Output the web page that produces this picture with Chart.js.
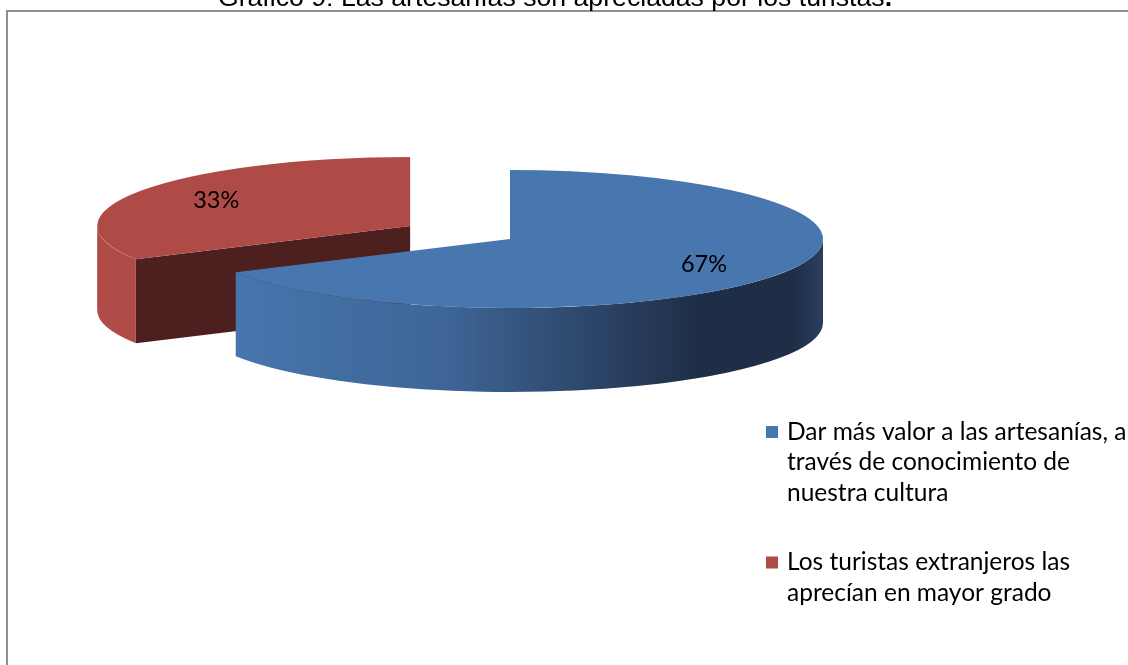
<!DOCTYPE html>
<html>
<head>
<meta charset="utf-8">
<script src="https://cdn.jsdelivr.net/npm/chart.js@4.4.0/dist/chart.umd.min.js"></script>
<style>
html, body { margin: 0; padding: 0; background: #fff; overflow: hidden; }
canvas { display: block; }
</style>
</head>
<body>
<canvas id="grafico" width="1128" height="665"></canvas>
<script>
var titulo = "Gráfico 9: Las artesanías son apreciadas por los turistas";
var categorias = [
  ["Dar más valor a las artesanías, a", "través de conocimiento de", "nuestra cultura"],
  ["Los turistas extranjeros las", "aprecían en mayor grado"]
];
var valores = [67, 33];
var separacion = [0, 116];
var colores = ["#4877b0", "#af4b47"];
var coloresCorte = ["#2a4264", "#4e1f1f"];

// vista 3d: centro del pastel en pantalla, aplastado vertical y grosor
var CX = 510, CY = 239, SY = 0.2204, ALTO = 84;

function desplazamiento(arc, i) {
  var mid = (arc.startAngle + arc.endAngle) / 2;
  return {x: Math.cos(mid) * separacion[i], y: Math.sin(mid) * separacion[i]};
}

function gradienteLado(ctx, i, x0, x1) {
  var g = ctx.createLinearGradient(x0, 0, x1, 0);
  if (i == 0) {
    g.addColorStop(0, "#4878b1");
    g.addColorStop(0.4, "#3e6596");
    g.addColorStop(0.8, "#1f2e47");
    g.addColorStop(0.95, "#1f2e46");
    g.addColorStop(1, "#2a3e5e");
  } else {
    g.addColorStop(0, "#b04c48");
    g.addColorStop(1, "#a94642");
  }
  return g;
}

var pastel3d = {
  id: 'pastel3d',
  beforeDraw: function(chart) {
    var ctx = chart.ctx;
    ctx.save();
    ctx.strokeStyle = "#8f8f8f";
    ctx.lineWidth = 2;
    ctx.strokeRect(7, 11, 1200, 800);
    ctx.restore();
  },
  beforeDatasetsDraw: function(chart) {
    var ctx = chart.ctx;
    var arcs = chart.getDatasetMeta(0).data;
    var tx = CX - arcs[0].x, ty = CY - arcs[0].y * SY;
    var orden = arcs.map(function(a, i) { return i; }).sort(function(a, b) {
      return desplazamiento(arcs[a], a).y - desplazamiento(arcs[b], b).y;
    });
    orden.forEach(function(i) {
      var arc = arcs[i], d = desplazamiento(arc, i);
      var sx = arc.x + d.x + tx, sy = (arc.y + d.y) * SY + ty;
      var R = arc.outerRadius, r2 = R * SY;
      // caras del corte
      [[arc.startAngle, -Math.cos(arc.startAngle)], [arc.endAngle, Math.cos(arc.endAngle)]].forEach(function(c) {
        if (c[1] <= 0.01) return;
        var px = sx + R * Math.cos(c[0]), py = sy + r2 * Math.sin(c[0]);
        ctx.beginPath();
        ctx.moveTo(sx, sy);
        ctx.lineTo(px, py);
        ctx.lineTo(px, py + ALTO);
        ctx.lineTo(sx, sy + ALTO);
        ctx.closePath();
        ctx.fillStyle = coloresCorte[i];
        ctx.fill();
      });
      // pared exterior visible (mitad delantera)
      for (var k = -1; k <= 1; k++) {
        var lo = Math.max(arc.startAngle, 2 * Math.PI * k);
        var hi = Math.min(arc.endAngle, Math.PI + 2 * Math.PI * k);
        if (hi <= lo) continue;
        ctx.beginPath();
        ctx.ellipse(sx, sy, R, r2, 0, lo, hi);
        ctx.ellipse(sx, sy + ALTO, R, r2, 0, hi, lo, true);
        ctx.closePath();
        ctx.fillStyle = gradienteLado(ctx, i, sx - R, sx + R);
        ctx.fill();
      }
      // cara de arriba: el arco de Chart.js con la vista aplastada
      ctx.save();
      ctx.translate(tx + d.x, ty + d.y * SY);
      ctx.scale(1, SY);
      arc.draw(ctx);
      ctx.restore();
    });
    return false;
  },
  afterDraw: function(chart) {
    var ctx = chart.ctx;
    var arcs = chart.getDatasetMeta(0).data;
    var tx = CX - arcs[0].x, ty = CY - arcs[0].y * SY;
    ctx.save();
    // porcentajes
    ctx.font = "23.5px Lato";
    ctx.fillStyle = "#000";
    ctx.textAlign = "center";
    ctx.textBaseline = "middle";
    arcs.forEach(function(arc, i) {
      var d = desplazamiento(arc, i);
      var mid = (arc.startAngle + arc.endAngle) / 2;
      var r = arc.outerRadius * 0.72;
      var x = arc.x + d.x + r * Math.cos(mid) + tx;
      var y = (arc.y + d.y + r * Math.sin(mid)) * SY + ty;
      ctx.fillText(valores[i] + "%", x, y);
    });
    // titulo (cortado arriba como en el original)
    ctx.textBaseline = "alphabetic";
    ctx.textAlign = "left";
    ctx.font = "26.67px 'Liberation Sans'";
    var w1 = ctx.measureText(titulo).width;
    ctx.font = "bold 26.67px 'Liberation Sans'";
    var w2 = ctx.measureText(".").width;
    var x0 = 555 - (w1 + w2) / 2;
    ctx.font = "26.67px 'Liberation Sans'";
    ctx.fillText(titulo, x0, 6);
    ctx.font = "bold 26.67px 'Liberation Sans'";
    ctx.fillText(".", x0 + w1, 6);
    // leyenda
    ctx.font = "24.5px Lato";
    ctx.textBaseline = "middle";
    var y = 432;
    categorias.forEach(function(lineas, i) {
      ctx.fillStyle = colores[i];
      ctx.fillRect(766, y - 6, 12, 12);
      ctx.fillStyle = "#000";
      lineas.forEach(function(t, j) {
        ctx.fillText(t, 787, y + j * 30.5);
      });
      y += lineas.length * 30.5 + 39;
    });
    ctx.restore();
  }
};

var ctx = document.getElementById("grafico").getContext('2d');
var grafico = new Chart(ctx, {
  type: 'pie',
  data: {
    labels: categorias,
    datasets: [{
      data: valores,
      backgroundColor: colores,
      borderWidth: 0,
      radius: 313,
      clip: false
    }]
  },
  options: {
    responsive: false,
    animation: false,
    events: [],
    radius: 313,
    plugins: {
      legend: { display: false },
      tooltip: { enabled: false },
      title: { display: false }
    }
  },
  plugins: [pastel3d]
});
</script>
</body>
</html>
